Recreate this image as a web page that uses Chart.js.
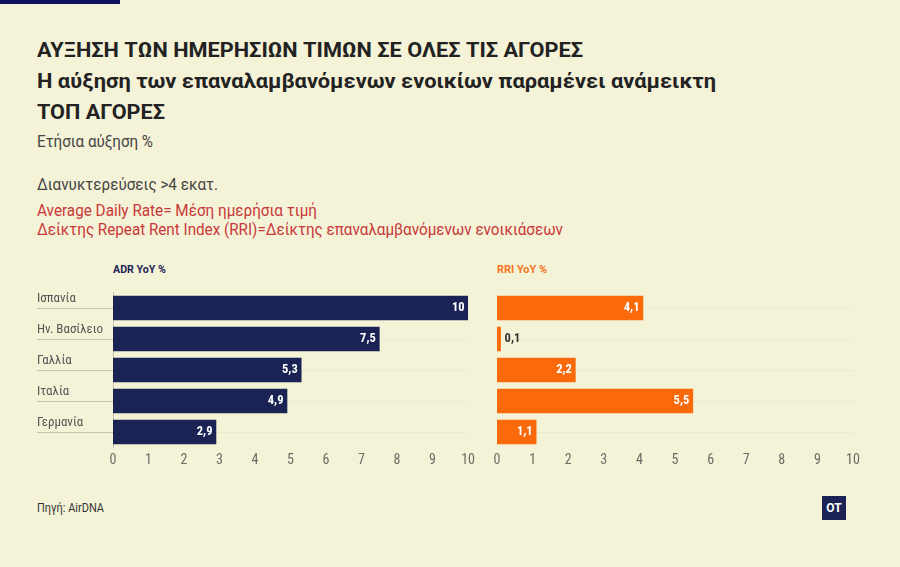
<!DOCTYPE html>
<html><head><meta charset="utf-8">
<script src="https://cdn.jsdelivr.net/npm/chart.js@4/dist/chart.umd.min.js"></script>
<style>
html,body{margin:0;padding:0;background:#f5f3d7;}
body{width:900px;height:567px;position:relative;overflow:hidden;font-family:Roboto,"Noto Sans",sans-serif;}
.topbar{position:absolute;left:0;top:0;width:120px;height:4px;background:#0d0f5c;}
.t{position:absolute;left:37px;white-space:nowrap;transform-origin:0 50%;line-height:1;}
.h{font-weight:700;font-size:21px;color:#222;}
.s{font-size:16px;color:#444;}
.r{font-size:16px;color:#c8383a;}
.lab{position:absolute;font-weight:700;font-size:11px;line-height:1;white-space:nowrap;transform-origin:0 50%;}
canvas{position:absolute;}
.src{position:absolute;left:37px;top:502px;font-size:12px;color:#333;line-height:1;white-space:nowrap;transform-origin:0 50%;}
.logo{position:absolute;left:822px;top:496px;width:24px;height:24px;background:#1b2354;color:#fff;font-weight:700;font-size:12px;line-height:24px;text-align:center;}
</style></head>
<body>
<div class="topbar"></div>
<div class="t h" style="top:39.5px" data-w="546">ΑΥΞΗΣΗ ΤΩΝ ΗΜΕΡΗΣΙΩΝ ΤΙΜΩΝ ΣΕ ΟΛΕΣ ΤΙΣ ΑΓΟΡΕΣ</div>
<div class="t h" style="top:71px" data-w="679">Η αύξηση των επαναλαμβανόμενων ενοικίων παραμένει ανάμεικτη</div>
<div class="t h" style="top:101.5px" data-w="128">ΤΟΠ ΑΓΟΡΕΣ</div>
<div class="t s" style="top:133.5px" data-w="116">Ετήσια αύξηση %</div>
<div class="t s" style="top:176.5px" data-w="181">Διανυκτερεύσεις &gt;4 εκατ.</div>
<div class="t r" style="top:202.5px" data-w="280">Average Daily Rate= Μέση ημερήσια τιμή</div>
<div class="t r" style="top:221.5px" data-w="526">Δείκτης Repeat Rent Index (RRI)=Δείκτης επαναλαμβανόμενων ενοικιάσεων</div>
<div class="lab" style="left:113px;top:263.5px;color:#1b2354" data-w="53">ADR YoY %</div>
<div class="lab" style="left:497px;top:263.5px;color:#f5731e" data-w="50">RRI YoY %</div>
<canvas id="c1" width="450" height="220" style="left:30px;top:255px;width:450px;height:220px"></canvas>
<canvas id="c2" width="400" height="220" style="left:480px;top:255px;width:400px;height:220px"></canvas>
<div class="src" data-w="67">Πηγή: AirDNA</div>
<div class="logo">OT</div>
<script>
const categories = ["Ισπανία", "Ην. Βασίλειο", "Γαλλία", "Ιταλία", "Γερμανία"];
const adrValues = [10, 7.5, 5.3, 4.9, 2.9];
const rriValues = [4.1, 0.1, 2.2, 5.5, 1.1];
const xTickMin = 0;
const xTickMax = 10;

document.querySelectorAll('[data-w]').forEach(el => {
  const w = el.getBoundingClientRect().width;
  const target = parseFloat(el.dataset.w);
  el.style.transform = 'scaleX(' + (target / w) + ')';
});

const FONT = '"Roboto Condensed", "Liberation Sans Narrow", "Arial Narrow", Roboto, sans-serif';
const NAVY = '#1b2354';
const ORANGE = '#fa6a0a';

const valueLabels = {
  id: 'valueLabels',
  afterDatasetsDraw(chart) {
    const ctx = chart.ctx;
    const meta = chart.getDatasetMeta(0);
    const ds = chart.data.datasets[0];
    ctx.save();
    ctx.font = 'bold 12.5px ' + FONT;
    ctx.textBaseline = 'middle';
    meta.data.forEach((bar, i) => {
      const txt = String(ds.data[i]).replace('.', ',');
      const w = ctx.measureText(txt).width;
      const barW = bar.x - bar.base;
      if (barW > w + 8) {
        ctx.fillStyle = '#ffffff'; ctx.textAlign = 'right';
        ctx.fillText(txt, bar.x - 3.5, bar.y);
      } else {
        ctx.fillStyle = '#333333'; ctx.textAlign = 'left';
        ctx.fillText(txt, bar.x + 4, bar.y);
      }
    });
    ctx.restore();
  }
};

function makeChart(id, values, color, showLabels, pad) {
  return new Chart(document.getElementById(id), {
    type: 'bar',
    data: { labels: categories, datasets: [{ data: values, backgroundColor: color, barThickness: 24, borderWidth: 0 }] },
    plugins: [valueLabels],
    options: {
      indexAxis: 'y', responsive: false, animation: false, devicePixelRatio: 1,
      layout: { padding: pad },
      plugins: { legend: { display: false }, tooltip: { enabled: false } },
      scales: {
        x: {
          min: xTickMin, max: xTickMax,
          ticks: { stepSize: 1, color: '#6b6b66', font: { family: FONT, size: 14 }, padding: 5 },
          grid: { display: false, drawTicks: false },
          border: { display: false },
          afterFit(s) { s.height = 27.5; }
        },
        y: showLabels ? {
          ticks: { crossAlign: 'far', color: '#555', font: { family: FONT, size: 13 }, labelOffset: -9.5, padding: 0 },
          grid: { offset: false, color: 'rgba(0,0,0,0.04)', tickColor: '#c4c2b0', tickLength: 76, drawTicks: true },
          border: { display: true, color: '#c4c2b0' },
          afterFit(s) { s.width = 76; }
        } : {
          ticks: { display: false },
          grid: { offset: false, color: 'rgba(0,0,0,0.04)', drawTicks: false },
          border: { display: false },
          afterFit(s) { s.width = 0; }
        }
      }
    }
  });
}

makeChart('c1', adrValues, NAVY, true, { left: 7, right: 11, top: 37.5, bottom: 0 });
makeChart('c2', rriValues, ORANGE, false, { left: 17, right: 27, top: 37.5, bottom: 0 });
</script>
</body></html>
